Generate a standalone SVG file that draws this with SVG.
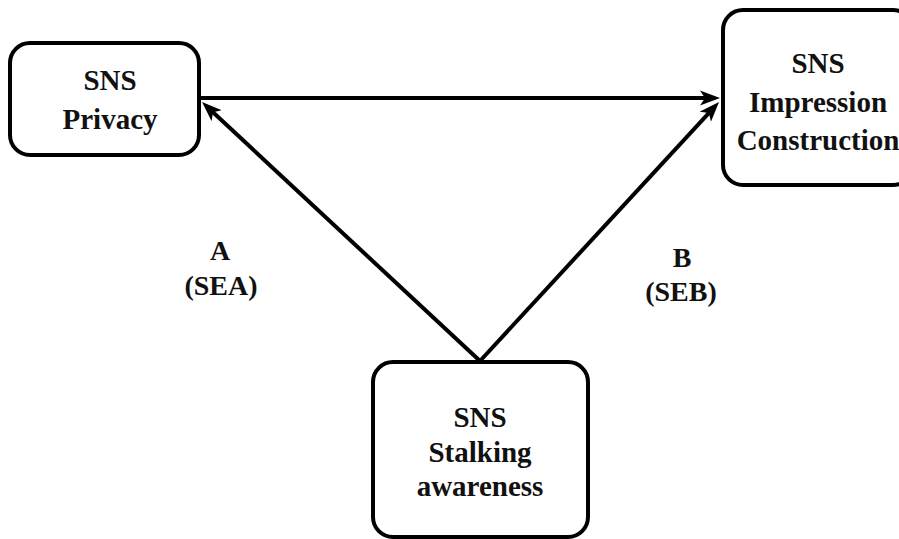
<svg xmlns="http://www.w3.org/2000/svg" width="899" height="539" viewBox="0 0 899 539">
<defs>
<marker id="ah" markerWidth="22" markerHeight="18" refX="12" refY="8" orient="auto" markerUnits="userSpaceOnUse">
<path d="M0,0.5 L20,8 L0,15.5 L5,8 Z" fill="#000"/>
</marker>
</defs>
<style>
.box{fill:#fff;stroke:#000;stroke-width:4}
.t{font-family:"Liberation Serif","Times New Roman",serif;font-weight:bold;font-size:29px;text-anchor:middle;fill:#111}
.l{font-family:"Liberation Serif","Times New Roman",serif;font-weight:bold;font-size:28px;text-anchor:middle;fill:#111}
.c{stroke:#000;stroke-width:4;fill:none}
</style>
<rect width="899" height="539" fill="#fff"/>
<g id="connectors">
<line class="c" x1="200" y1="98" x2="712" y2="98" marker-end="url(#ah)"/>
<line class="c" x1="480" y1="361" x2="207.9" y2="107.5" marker-end="url(#ah)"/>
<line class="c" x1="480" y1="361" x2="713.6" y2="107.9" marker-end="url(#ah)"/>
</g>
<g id="privacy">
<rect class="box" x="10" y="43" width="189" height="112" rx="20"/>
<text class="t" x="110" y="90">SNS</text>
<text class="t" x="110" y="129">Privacy</text>
</g>
<g id="impression">
<rect class="box" x="723" y="10" width="190" height="175" rx="20"/>
<text class="t" x="818" y="73">SNS</text>
<text class="t" x="818" y="112">Impression</text>
<text class="t" x="818" y="150">Construction</text>
</g>
<g id="stalking">
<rect class="box" x="373" y="362" width="215" height="175" rx="20"/>
<text class="t" x="480" y="427">SNS</text>
<text class="t" x="480" y="462">Stalking</text>
<text class="t" x="480" y="496">awareness</text>
</g>
<g id="label-a">
<text class="l" x="220" y="260">A</text>
<text class="l" x="221" y="295">(SEA)</text>
</g>
<g id="label-b">
<text class="l" x="682" y="267">B</text>
<text class="l" x="681" y="301">(SEB)</text>
</g>
</svg>
